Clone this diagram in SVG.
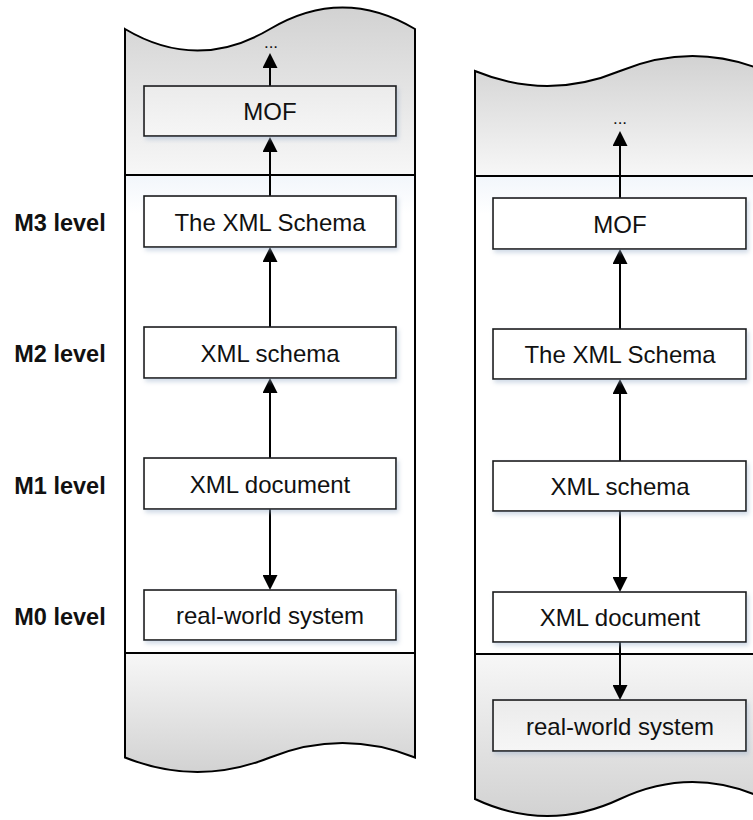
<svg xmlns="http://www.w3.org/2000/svg" width="753" height="820" viewBox="0 0 753 820">
  <style>
    .outline { fill: none; stroke: #000; stroke-width: 2; }
    .sep { stroke: #000; stroke-width: 2; }
    .box { fill: #fff; stroke: #1a1a1a; stroke-width: 1.6; filter: url(#shadow); }
    .box.grey { fill: url(#boxGrey); }
    .txt { font-family: "Liberation Sans", Arial, sans-serif; font-size: 24px; fill: #111; text-anchor: middle; }
    .lvl { font-family: "Liberation Sans", Arial, sans-serif; font-size: 23.5px; font-weight: bold; fill: #111; text-anchor: middle; }
    .dots { font-family: "Liberation Sans", Arial, sans-serif; font-size: 17px; fill: #111; text-anchor: middle; }
    .conn { stroke: #000; stroke-width: 2; fill: none; marker-end: url(#arrow); }
  </style>
  <defs>
    <linearGradient id="topBand" x1="0" y1="0" x2="0" y2="1">
      <stop offset="0" stop-color="#d2d2d2"/>
      <stop offset="1" stop-color="#f7f7f7"/>
    </linearGradient>
    <linearGradient id="bottomBand" x1="0" y1="0" x2="0" y2="1">
      <stop offset="0" stop-color="#f7f7f7"/>
      <stop offset="1" stop-color="#d2d2d2"/>
    </linearGradient>
    <linearGradient id="middle" x1="0" y1="0" x2="0" y2="1">
      <stop offset="0" stop-color="#f2f6fb"/>
      <stop offset="0.08" stop-color="#ffffff"/>
      <stop offset="1" stop-color="#ffffff"/>
    </linearGradient>
    <linearGradient id="boxGrey" x1="0" y1="0" x2="0" y2="1">
      <stop offset="0" stop-color="#ebebeb"/>
      <stop offset="1" stop-color="#f6f6f6"/>
    </linearGradient>
    <filter id="shadow" x="-10%" y="-20%" width="125%" height="160%">
      <feDropShadow dx="2" dy="3" stdDeviation="2" flood-color="#9cb0cc" flood-opacity="0.45"/>
    </filter>
    <marker id="arrow" markerUnits="userSpaceOnUse" markerWidth="16" markerHeight="15" refX="0" refY="7.5" orient="auto">
      <path d="M0,0 L15,7.5 L0,15 Z" fill="#000"/>
    </marker>
  </defs>

  <!-- left column: meta-level stack with XML Schema at M3 -->
  <g id="column-left">
    <path d="M125,29 C173.3,57.7 221.7,57.7 270,29 C318.3,0.3 366.7,0.3 415,29 L415,175 L125,175 Z" fill="url(#topBand)"/>
    <rect x="125" y="175" width="290" height="478" fill="url(#middle)"/>
    <path d="M125,653 L415,653 L415,757.5 C366.7,738.2 318.3,738.2 270,757.5 C221.7,776.8 173.3,776.8 125,757.5 Z" fill="url(#bottomBand)"/>
    <path class="outline" d="M125,29 C173.3,57.7 221.7,57.7 270,29 C318.3,0.3 366.7,0.3 415,29 L415,757.5 C366.7,738.2 318.3,738.2 270,757.5 C221.7,776.8 173.3,776.8 125,757.5 Z"/>
    <line class="sep" x1="125" y1="175" x2="415" y2="175"/>
    <line class="sep" x1="125" y1="653" x2="415" y2="653"/>
  </g>

  <!-- right column: meta-level stack with MOF at M3 -->
  <g id="column-right">
    <path d="M475,71 C523.3,91 571.7,91 620,71 C668.3,51 716.7,51 765,71 L765,176 L475,176 Z" fill="url(#topBand)"/>
    <rect x="475" y="176" width="290" height="478" fill="url(#middle)"/>
    <path d="M475,654 L765,654 L765,799 C716.7,776.3 668.3,776.3 620,799 C571.7,821.7 523.3,821.7 475,799 Z" fill="url(#bottomBand)"/>
    <path class="outline" d="M475,71 C523.3,91 571.7,91 620,71 C668.3,51 716.7,51 765,71 L765,799 C716.7,776.3 668.3,776.3 620,799 C571.7,821.7 523.3,821.7 475,799 Z"/>
    <line class="sep" x1="475" y1="176" x2="765" y2="176"/>
    <line class="sep" x1="475" y1="654" x2="765" y2="654"/>
  </g>

  <!-- level labels -->
  <g id="level-labels">
    <text class="lvl" x="60" y="231">M3 level</text>
    <text class="lvl" x="60" y="362">M2 level</text>
    <text class="lvl" x="60" y="493.5">M1 level</text>
    <text class="lvl" x="60" y="624.5">M0 level</text>
  </g>

  <!-- connectors -->
  <g id="connectors">
    <line class="conn" x1="270" y1="86" x2="270" y2="68"/>
    <line class="conn" x1="270" y1="196" x2="270" y2="152"/>
    <line class="conn" x1="270" y1="327" x2="270" y2="262"/>
    <line class="conn" x1="270" y1="458" x2="270" y2="393"/>
    <line class="conn" x1="270" y1="509" x2="270" y2="575"/>
    <line class="conn" x1="620" y1="198" x2="620" y2="146"/>
    <line class="conn" x1="620" y1="329" x2="620" y2="264"/>
    <line class="conn" x1="620" y1="461" x2="620" y2="394"/>
    <line class="conn" x1="620" y1="511" x2="620" y2="577"/>
    <line class="conn" x1="620" y1="642" x2="620" y2="685"/>
  </g>

  <!-- left column nodes -->
  <g id="l-more"><text class="dots" x="271" y="48">...</text></g>
  <g id="l-mof">
    <rect class="box grey" x="144" y="86" width="252" height="50"/>
    <text class="txt" x="270" y="120">MOF</text>
  </g>
  <g id="l-xml-schema-spec">
    <rect class="box" x="144" y="196" width="252" height="51"/>
    <text class="txt" x="270" y="230.5">The XML Schema</text>
  </g>
  <g id="l-xml-schema">
    <rect class="box" x="144" y="327" width="252" height="51"/>
    <text class="txt" x="270" y="361.5">XML schema</text>
  </g>
  <g id="l-xml-document">
    <rect class="box" x="144" y="458" width="252" height="51"/>
    <text class="txt" x="270" y="492.5">XML document</text>
  </g>
  <g id="l-real-world">
    <rect class="box" x="144" y="590" width="252" height="50"/>
    <text class="txt" x="270" y="624">real-world system</text>
  </g>

  <!-- right column nodes -->
  <g id="r-more"><text class="dots" x="620" y="124">...</text></g>
  <g id="r-mof">
    <rect class="box" x="493" y="198" width="253" height="51"/>
    <text class="txt" x="620" y="232.5">MOF</text>
  </g>
  <g id="r-xml-schema-spec">
    <rect class="box" x="493" y="329" width="253" height="50"/>
    <text class="txt" x="620" y="363">The XML Schema</text>
  </g>
  <g id="r-xml-schema">
    <rect class="box" x="493" y="461" width="253" height="50"/>
    <text class="txt" x="620" y="495">XML schema</text>
  </g>
  <g id="r-xml-document">
    <rect class="box" x="493" y="592" width="253" height="50"/>
    <text class="txt" x="620" y="626">XML document</text>
  </g>
  <g id="r-real-world">
    <rect class="box grey" x="493" y="700" width="253" height="51"/>
    <text class="txt" x="620" y="734.5">real-world system</text>
  </g>
</svg>
